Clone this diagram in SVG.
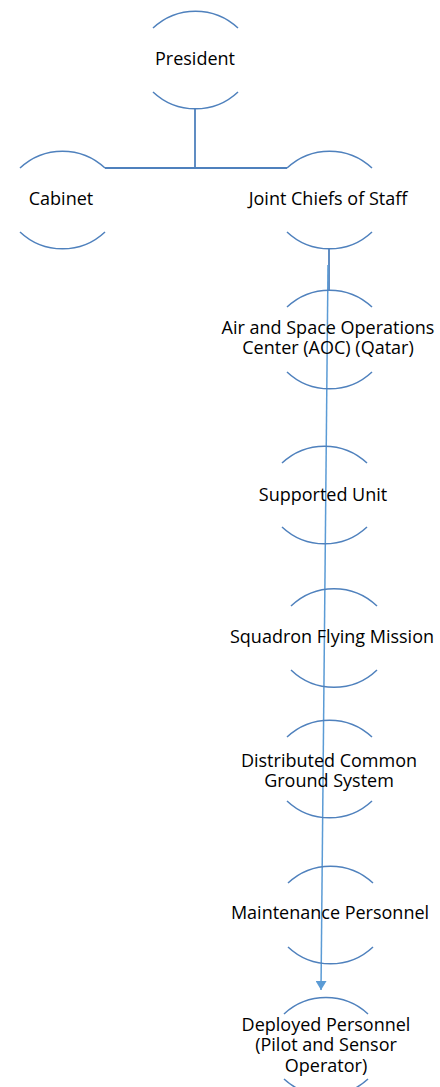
<svg xmlns="http://www.w3.org/2000/svg" width="440" height="1087" viewBox="0 0 440 1087">
<style>
.arc{fill:none;stroke:#4f81bd;stroke-width:1.5}
.con{fill:none;stroke:#4f81bd;stroke-width:1.8}
.arr{fill:none;stroke:#5b9bd5;stroke-width:1.5}
text{font-family:"Open Sans","Noto Sans",sans-serif;font-size:18px;fill:#000;text-anchor:middle}
</style>
<defs>
<marker id="ah" viewBox="0 0 10 10" refX="10" refY="5" markerWidth="9" markerHeight="11" markerUnits="userSpaceOnUse" orient="auto" preserveAspectRatio="none">
<path d="M0,0 L10,5 L0,10 z" fill="#5b9bd5"/>
</marker>
</defs>
<rect width="440" height="1087" fill="#fff"/>
<g id="connectors">
<path class="con" d="M195,109 V168"/>
<path class="con" d="M105,168 H287"/>
<path class="con" d="M329,249 V290"/>
<path class="arr" d="M328,265 L321,990" marker-end="url(#ah)"/>
</g>
<g id="president">
<path class="arc" d="M153,28 A62,62 0 0 1 238,28"/>
<path class="arc" d="M153,92 A62,62 0 0 0 238,92"/>
<text x="195" y="65">President</text>
</g>
<g id="cabinet">
<path class="arc" d="M20,168 A62,62 0 0 1 105,168"/>
<path class="arc" d="M20,232 A62,62 0 0 0 105,232"/>
<text x="61" y="205">Cabinet</text>
</g>
<g id="jcs">
<path class="arc" d="M287,168 A62,62 0 0 1 372,168"/>
<path class="arc" d="M287,232 A62,62 0 0 0 372,232"/>
<text x="328" y="205">Joint Chiefs of Staff</text>
</g>
<g id="aoc">
<path class="arc" d="M287,307 A62,62 0 0 1 372,307"/>
<path class="arc" d="M287,372 A62,62 0 0 0 372,372"/>
<text x="328" y="334">Air and Space Operations</text>
<text x="328" y="354">Center (AOC) (Qatar)</text>
</g>
<g id="supported">
<path class="arc" d="M282,463 A62,62 0 0 1 367,463"/>
<path class="arc" d="M282,527 A62,62 0 0 0 367,527"/>
<text x="323" y="501">Supported Unit</text>
</g>
<g id="squadron">
<path class="arc" d="M291,606 A62,62 0 0 1 377,606"/>
<path class="arc" d="M291,670 A62,62 0 0 0 377,670"/>
<text x="332" y="643">Squadron Flying Mission</text>
</g>
<g id="dcgs">
<path class="arc" d="M287,737 A62,62 0 0 1 372,737"/>
<path class="arc" d="M287,801 A62,62 0 0 0 372,801"/>
<text x="329" y="767">Distributed Common</text>
<text x="329" y="787">Ground System</text>
</g>
<g id="maintenance">
<path class="arc" d="M288,883 A62,62 0 0 1 373,883"/>
<path class="arc" d="M288,947 A62,62 0 0 0 373,947"/>
<text x="330" y="919">Maintenance Personnel</text>
</g>
<g id="deployed">
<path class="arc" d="M284,1014 A62,62 0 0 1 368,1014"/>
<path class="arc" d="M284,1079 A62,62 0 0 0 368,1079"/>
<text x="326" y="1031">Deployed Personnel</text>
<text x="326" y="1051">(Pilot and Sensor</text>
<text x="326" y="1072">Operator)</text>
</g>
</svg>
